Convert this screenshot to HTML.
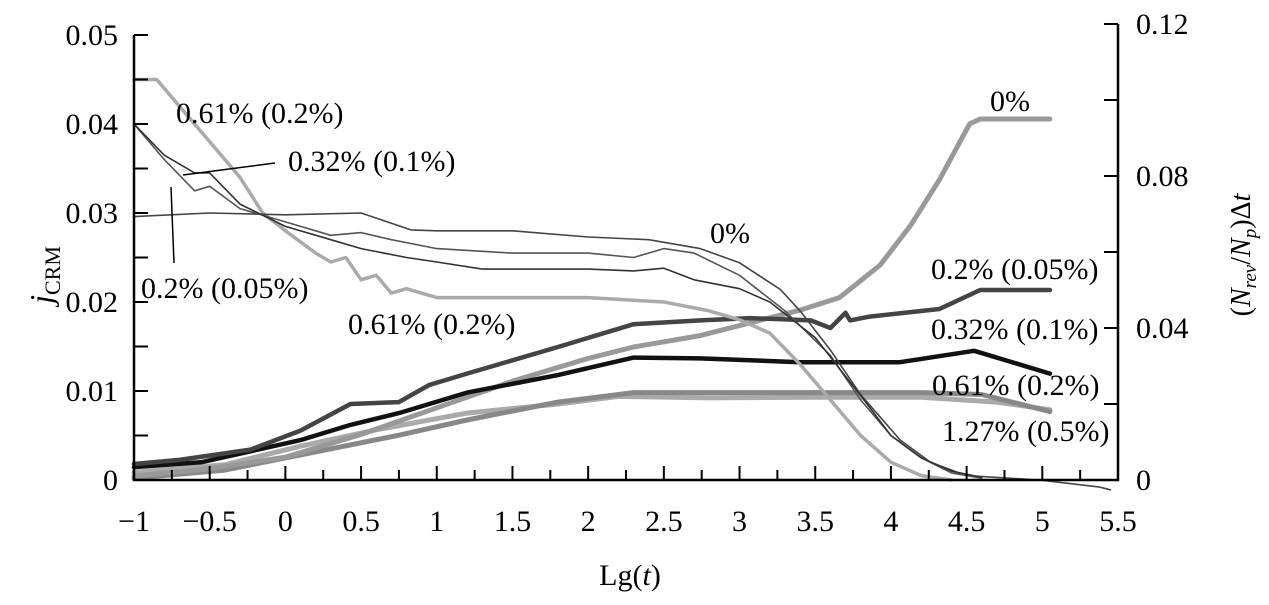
<!DOCTYPE html>
<html><head><meta charset="utf-8"><style>
body{margin:0;background:#fff}
svg, svg text{font-family:"Liberation Serif","Times New Roman",serif}
</style></head><body>
<svg id="chart" width="1269" height="600">
<g id="marks"></g><g id="axes"></g>
</svg>
<script>
const xTicks=[-1,-0.5,0,0.5,1,1.5,2,2.5,3,3.5,4,4.5,5,5.5];
const xTickLabels=["\u22121","\u22120.5","0","0.5","1","1.5","2","2.5","3","3.5","4","4.5","5","5.5"];
const yLeftTicks=[0,0.01,0.02,0.03,0.04,0.05];
const yLeftLabels=["0","0.01","0.02","0.03","0.04","0.05"];
const yRightTicks=[0,0.04,0.08,0.12];
const yRightLabels=["0","0.04","0.08","0.12"];
// j_CRM curves (left axis)
const jX0=[-1,-0.5,0,0.5,0.83,1,1.5,2,2.4,2.74,3,3.27,3.4,3.6,3.8,4.06,4.26,4.5,4.98,5.38,5.45];
const jY0=[0.0296,0.0300,0.0298,0.0300,0.0281,0.028,0.028,0.0273,0.027,0.026,0.0244,0.0214,0.019,0.0146,0.0096,0.0045,0.002,0.0005,0,-0.0008,-0.0011];
const jX1=[-1,-0.8,-0.6,-0.5,-0.3,0,0.3,0.5,0.7,1,1.5,2,2.3,2.5,2.7,3,3.3,3.6,3.8,4,4.2,4.4,4.6];
const jY1=[0.040,0.036,0.0325,0.033,0.0305,0.029,0.0275,0.0278,0.027,0.026,0.0255,0.0255,0.025,0.026,0.0255,0.023,0.019,0.014,0.009,0.005,0.0025,0.0008,0.0002];
const jX2=[-1,-0.8,-0.6,-0.5,-0.3,0,0.3,0.5,0.8,1,1.3,2,2.3,2.5,2.7,3,3.2,3.5,3.8,4,4.2,4.4,4.6];
const jY2=[0.040,0.0365,0.0345,0.0345,0.031,0.0285,0.027,0.026,0.025,0.0245,0.0237,0.0237,0.0235,0.0238,0.0225,0.0215,0.020,0.016,0.0095,0.005,0.0025,0.001,0.0003];
const jX3=[-1,-0.85,-0.7,-0.5,-0.3,-0.15,0,0.2,0.3,0.4,0.5,0.6,0.7,0.8,1,1.5,2,2.5,2.8,3,3.2,3.4,3.6,3.8,4,4.2,4.4];
const jY3=[0.045,0.045,0.042,0.038,0.034,0.030,0.028,0.0255,0.0245,0.025,0.0225,0.023,0.021,0.0215,0.0205,0.0205,0.0205,0.020,0.019,0.018,0.0165,0.013,0.009,0.005,0.002,0.0005,0];
// (Nrev/Np)Δt curves (right axis)
const rX0=[-1,-0.5,0,0.5,1,1.5,2,2.3,2.74,3.4,3.66,3.93,4.13,4.32,4.52,4.59,5.05];
const rY0=[0.001,0.003,0.006,0.012,0.019,0.026,0.032,0.035,0.038,0.0447,0.048,0.0566,0.067,0.079,0.0937,0.095,0.095];
const rX1=[-1,-0.7,-0.23,0.1,0.43,0.75,0.95,1.2,1.8,2.3,2.74,3.07,3.47,3.6,3.7,3.73,3.86,4.32,4.59,5.05];
const rY1=[0.0042,0.0053,0.008,0.013,0.020,0.0205,0.025,0.028,0.035,0.041,0.042,0.0426,0.042,0.040,0.044,0.042,0.043,0.045,0.050,0.050];
const rX2=[-1,-0.55,0.1,0.43,0.75,1.2,1.8,2.3,2.74,3.4,4.06,4.55,5.05];
const rY2=[0.0034,0.0047,0.0105,0.0145,0.0176,0.023,0.0276,0.0322,0.032,0.031,0.031,0.034,0.028];
const rX3=[-1,-0.4,0.1,0.75,1.2,1.8,2.3,2.8,3.5,4.2,4.6,5.05];
const rY3=[0.0005,0.0026,0.0066,0.0118,0.0158,0.0205,0.023,0.023,0.023,0.023,0.0225,0.018];
const rX4=[-1,-0.4,0.1,0.6,1.2,1.8,2.2,2.8,3.5,4.2,4.7,5.05];
const rY4=[0.002,0.004,0.0089,0.0132,0.0176,0.0200,0.022,0.0216,0.0218,0.0218,0.0205,0.0185];

const X0=134,X1=1118,YB=480;
const FF='"Liberation Serif", serif';
const xs=v=>X0+(v+1)/6.5*(X1-X0);
const yl=v=>YB-v/0.05*445;
const yr=v=>YB-v/0.12*456;
const NS="http://www.w3.org/2000/svg";
const marks=document.getElementById('marks'), axes=document.getElementById('axes');
function mk(t,a,p){const e=document.createElementNS(NS,t);for(const k in a)e.setAttribute(k,a[k]);(p||axes).appendChild(e);return e;}
function line(xa,ya,yf,color,w,name){
  const d=xa.map((x,i)=>(i?'L':'M')+xs(x).toFixed(1)+','+yf(ya[i]).toFixed(1)).join('');
  const p=mk('path',{d:d,fill:'none',stroke:color,'stroke-width':w,'stroke-linejoin':'round','stroke-linecap':'round'},marks);
  
  
}
line(rX4,rY4,yr,'#aaa',5,'line-sr-1.27');
line(rX3,rY3,yr,'#888',5,'line-sr-0.61');
line(rX0,rY0,yr,'#999',5,'line-sr-0');
line(rX2,rY2,yr,'#111',4.5,'line-sr-0.32');
line(rX1,rY1,yr,'#444',4.5,'line-sr-0.2');
line(jX3,jY3,yl,'#aaa',3.5,'line-j-0.61');
line(jX0,jY0,yl,'#444',1.6,'line-j-0');
line(jX1,jY1,yl,'#555',1.6,'line-j-0.2');
line(jX2,jY2,yl,'#333',1.6,'line-j-0.32');

const st={stroke:'#000','stroke-width':2.5,fill:'none'};
const ax=mk('path',Object.assign({d:`M${X0},35V${YB}H${X1}V24`},st));

function txt(x,y,s,anchor,size,name){const t=mk('text',{x:x,y:y,'text-anchor':anchor,'font-size':size,'font-family':FF,fill:'#000'});t.textContent=s;return t;}
for(let v=-1;v<=5.5001;v+=0.25){mk('line',{x1:xs(v),x2:xs(v),y1:YB,y2:YB-(Math.abs(v*2-Math.round(v*2))<1e-6?14:10),stroke:'#000','stroke-width':2});}
xTicks.forEach((v,i)=>txt(xs(v),531,xTickLabels[i],'middle',30,'x-tick-label'));
for(let v=0;v<=0.05001;v+=0.005){mk('line',{x1:X0,x2:X0+14,y1:yl(v),y2:yl(v),stroke:'#000','stroke-width':2});}
yLeftTicks.forEach((v,i)=>txt(X0-16,yl(v)+10,yLeftLabels[i],'end',30,'y-left-tick-label'));
for(let v=0;v<=0.12001;v+=0.02){mk('line',{x1:X1,x2:X1-14,y1:yr(v),y2:yr(v),stroke:'#000','stroke-width':2});}
yRightTicks.forEach((v,i)=>txt(X1+18,yr(v)+10,yRightLabels[i],'start',30,'y-right-tick-label'));
txt(630,585,'Lg(','middle',30,'x-axis-title').innerHTML='Lg(<tspan font-style="italic">t</tspan>)';
const yt=mk('text',{x:0,y:0,'font-size':32,'font-family':FF,transform:'translate(52,275) rotate(-90)','text-anchor':'middle'});
yt.innerHTML='<tspan font-style="italic">j</tspan><tspan font-size="22" dy="8">CRM</tspan>';

const yt2=mk('text',{x:0,y:0,'font-size':28,'font-family':FF,transform:'translate(1250,255) rotate(-90)','text-anchor':'middle'});
yt2.innerHTML='(<tspan font-style="italic">N</tspan><tspan font-style="italic" font-size="19" dy="6">rev</tspan><tspan dy="-6">/</tspan><tspan font-style="italic">N</tspan><tspan font-style="italic" font-size="19" dy="6">p</tspan><tspan dy="-6">)Δ</tspan><tspan font-style="italic">t</tspan>';

const L=[[176,123,'0.61% (0.2%)'],[288,171,'0.32% (0.1%)'],[141,298,'0.2% (0.05%)'],[348,334,'0.61% (0.2%)'],[710,243,'0%'],[990,111,'0%'],[931,279,'0.2% (0.05%)'],[931,339,'0.32% (0.1%)'],[932,395,'0.61% (0.2%)'],[942,441,'1.27% (0.5%)']];
L.forEach(l=>txt(l[0],l[1],l[2],'start',30,'series-label'));
mk('line',{x1:183,y1:175,x2:275,y2:163,stroke:'#000','stroke-width':1.5});
mk('line',{x1:171,y1:187,x2:174,y2:263,stroke:'#000','stroke-width':1.5});
</script>
</body></html>
